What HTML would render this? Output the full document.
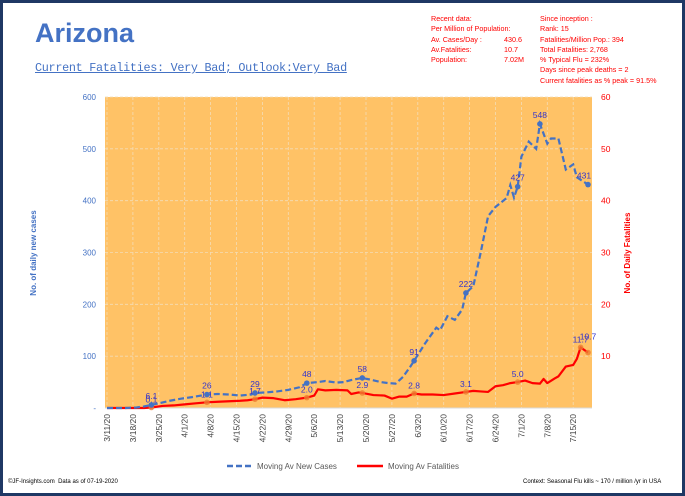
<!DOCTYPE html>
<html><head><meta charset="utf-8"><style>
body{margin:0;width:685px;height:496px;overflow:hidden;background:#fff;font-family:"Liberation Sans",sans-serif}
#frame{position:absolute;left:0;top:0;width:679px;height:490px;border:3px solid #1f3864;background:#fff}
.t{position:absolute;white-space:nowrap}
</style></head><body>
<div id="frame"></div>
<div class="t" style="left:35px;top:18px;font-size:27px;font-weight:bold;color:#4472c4">Arizona</div>
<div class="t" style="left:35px;top:61px;font-family:'Liberation Mono',monospace;font-size:11.8px;color:#4472c4;text-decoration:underline;letter-spacing:-0.3px">Current Fatalities: Very Bad; Outlook:Very Bad</div>
<div class="t" style="left:431px;top:14px;font-size:7.2px;color:#f00;line-height:10.3px">Recent data:<br>Per Million of Population:<br>Av. Cases/Day :<br>Av.Fatalities:<br>Population:</div>
<div class="t" style="left:504px;top:34.6px;font-size:7.2px;color:#f00;line-height:10.3px">430.6<br>10.7<br>7.02M</div>
<div class="t" style="left:540px;top:14px;font-size:7.2px;color:#f00;line-height:10.3px">Since inception :<br>Rank: 15<br>Fatalities/Million Pop.: 394<br>Total Fatalities: 2,768<br>% Typical Flu = 232%<br>Days since peak deaths = 2<br>Current fatalities as % peak = 91.5%</div>
<svg id="chart" width="685" height="496" style="position:absolute;left:0;top:0"></svg>
<div class="t" style="left:8px;top:479px;font-size:6px;color:#000">©JF-Insights.com &nbsp;Data as of 07-19-2020</div>
<div class="t" style="left:523px;top:479px;font-size:6px;color:#000">Context: Seasonal Flu kills ~ 170 / million /yr in USA</div>
<script>
const caseDays=[0,5,8,10,12,14,17,20,23,27,30,33,36,39,40,43,46,49,52,54,57,59,62,64,66,69,71,74,76,78,80,82,83,86,89,90,92,94,96,97,99,101,103,105,108,109,110,111,112,114,116,117,119,120,122,124,126,127,130];
const caseVals=[0,0,1,3,6,9,14,18,21,26,27,26,24,26,29,30,32,35,40,48,50,52,49,50,54,58,55,50,48,47,60,80,91,125,155,150,177,170,190,222,235,300,370,388,405,430,406,427,485,514,500,548,510,520,520,460,470,445,431];
const fatDays=[0,10,12,15,18,21,24,27,30,33,36,38,40,42,45,48,51,54,56,57,59,62,65,66,68,69,72,75,77,79,81,83,85,88,91,94,97,99,101,103,105,107,109,111,113,115,117,118,119,121,122,124,126,127,128,130];
const fatVals=[0,0,0.1,0.4,0.5,0.7,0.9,1.1,1.2,1.3,1.4,1.5,1.7,2.0,1.9,1.5,1.7,2.0,2.4,3.6,3.4,3.5,3.4,2.7,3.0,2.9,2.5,2.4,1.8,2.2,2.2,2.8,2.6,2.6,2.5,2.8,3.1,3.3,3.2,3.1,4.2,4.4,4.8,5.0,5.3,4.8,4.7,5.6,4.8,5.7,6.1,8.0,8.3,9.5,11.7,10.7];
const caseLabelDays=[12,27,40,54,69,83,97,111,117,130];
const caseLabels=["6.1","26","29","48","58","91","222","427","548","431"];
const fatLabelDays=[12,27,40,54,69,83,97,111,128,130];
const fatLabels=["0.1","1.1","1.7","2.0","2.9","2.8","3.1","5.0","11.7","10.7"];
const leftTicks=[0,100,200,300,400,500,600];
const rightTicks=[0,10,20,30,40,50,60];
const dateTicks=["3/11/20","3/18/20","3/25/20","4/1/20","4/8/20","4/15/20","4/22/20","4/29/20","5/6/20","5/13/20","5/20/20","5/27/20","6/3/20","6/10/20","6/17/20","6/24/20","7/1/20","7/8/20","7/15/20"];
const X0=105,X1=592,Y0=408,Y1=97;
const x=d=>107+d*3.7;
const yL=v=>Y0-(v/600)*(Y0-Y1);
const yR=v=>Y0-(v/60)*(Y0-Y1);
const svg=document.getElementById('chart');
const NS='http://www.w3.org/2000/svg';
function mk(tag,a){const e=document.createElementNS(NS,tag);for(const k in a)e.setAttribute(k,a[k]);svg.appendChild(e);return e;}
let e=mk('rect',{x:X0,y:Y1,width:X1-X0,height:Y0-Y1,fill:'#ffc266'});


leftTicks.forEach((v,i)=>{
  if(v>0){let g=mk('line',{x1:X0,x2:X1,y1:yL(v),y2:yL(v),stroke:'#f4dcb5','stroke-width':0.8,'stroke-dasharray':'3,2'});
  
  }
  let t=mk('text',{x:96,y:yL(v)+3,'text-anchor':'end','font-size':8,fill:'#4472c4'});t.textContent=v===0?'-':v;
  
  
});
rightTicks.forEach(v=>{
  let t=mk('text',{x:601,y:yR(v)+3,'font-size':8.5,fill:'#f00'});t.textContent=v===0?'':v;
  
  
});
dateTicks.forEach((s,i)=>{
  const xx=x(i*7);
  let g=mk('line',{x1:xx,x2:xx,y1:Y1,y2:Y0,stroke:'#f4dcb5','stroke-width':0.8,'stroke-dasharray':'3,2'});
  
  
  let t=mk('text',{x:0,y:0,'font-size':8.5,fill:'#404040','text-anchor':'end',transform:`translate(${xx+3},${Y0+6}) rotate(-90)`});t.textContent=s;
  
  
});
e=mk('line',{x1:X0,x2:X1,y1:Y0,y2:Y0,stroke:'#d9d9d9','stroke-width':1});


let p=fatDays.map((d,i)=>x(d)+','+yR(fatVals[i])).join(' ');
e=mk('polyline',{points:p,fill:'none',stroke:'#f00','stroke-width':2.2,'stroke-linejoin':'round'});


p=caseDays.map((d,i)=>x(d)+','+yL(caseVals[i])).join(' ');
e=mk('polyline',{points:p,fill:'none',stroke:'#4472c4','stroke-width':2.2,'stroke-dasharray':'6,3'});


const interp=(days,vals,d)=>{for(let i=0;i<days.length;i++){if(days[i]===d)return vals[i];if(days[i]>d){const f=(d-days[i-1])/(days[i]-days[i-1]);return vals[i-1]+f*(vals[i]-vals[i-1]);}}return vals[vals.length-1];};
fatLabelDays.forEach((d,i)=>{
  const v=interp(fatDays,fatVals,d);
  let c=mk('circle',{cx:x(d),cy:yR(v),r:2.8,fill:'#ed7d31',opacity:0.8});
  
  
  let t=mk('text',{x:x(d),y:yR(v)-(i===9?13:5),'text-anchor':'middle','font-size':8.5,fill:'#3333cc'});t.textContent=fatLabels[i];
  
  
});
caseLabelDays.forEach((d,i)=>{
  const v=interp(caseDays,caseVals,d);
  let c=mk('circle',{cx:x(d),cy:yL(v),r:2.8,fill:'#4472c4'});
  
  
  let t=mk('text',{x:x(d)+(i===9?-4:0),y:yL(v)-6,'text-anchor':'middle','font-size':8.5,fill:'#3333cc'});t.textContent=caseLabels[i];
  
  
});
let t=mk('text',{x:0,y:0,'font-size':8,'font-weight':'bold',fill:'#4472c4','text-anchor':'middle',transform:'translate(36,253) rotate(-90)'});t.textContent='No. of daily new  cases';


t=mk('text',{x:0,y:0,'font-size':8,'font-weight':'bold',fill:'#f00','text-anchor':'middle',transform:'translate(630,253) rotate(-90)'});t.textContent='No. of Daily Fatalities';


e=mk('line',{x1:227,x2:252,y1:466,y2:466,stroke:'#4472c4','stroke-width':2.5,'stroke-dasharray':'6,3'});


t=mk('text',{x:257,y:469,'font-size':8,fill:'#595959'});t.textContent='Moving Av New Cases';


e=mk('line',{x1:357,x2:383,y1:466,y2:466,stroke:'#f00','stroke-width':2.5});


t=mk('text',{x:388,y:469,'font-size':8,fill:'#595959'});t.textContent='Moving Av Fatalities';


</script>
</body></html>
